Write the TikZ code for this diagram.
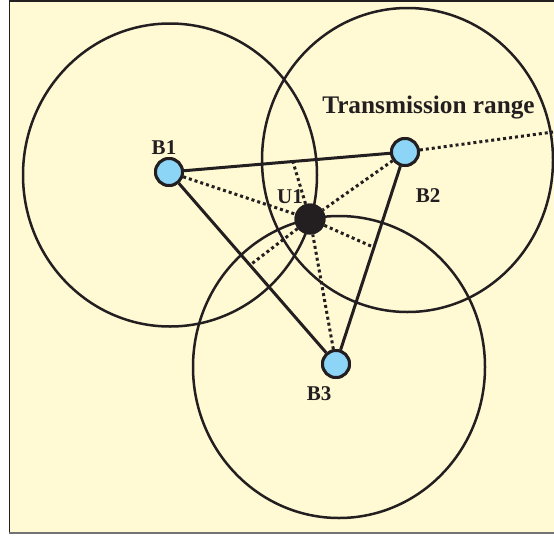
\documentclass[tikz,border=0pt]{standalone}
\usepackage{fontspec}
\setmainfont{Liberation Serif}
\usetikzlibrary{calc}
\definecolor{bgyellow}{HTML}{FFF9D4}
\definecolor{inkdark}{HTML}{231F20}
\definecolor{nodeblue}{HTML}{8DD5F6}
\begin{document}
\begin{tikzpicture}[x=1pt,y=-1pt,
  rangecircle/.style={draw=inkdark,line width=2.5pt},
  link/.style={draw=inkdark,line width=3pt},
  dotlink/.style={draw=inkdark,line width=3pt,dash pattern=on 3pt off 3pt},
  station/.style={circle,draw=inkdark,line width=3pt,fill=nodeblue,minimum size=27pt,inner sep=0pt},
  user/.style={circle,fill=inkdark,minimum size=31pt,inner sep=0pt},
  lab/.style={font=\bfseries\fontsize{21}{25}\selectfont,text=inkdark,anchor=base,inner sep=0pt},
  biglab/.style={font=\bfseries\fontsize{25.3}{30}\selectfont,text=inkdark,anchor=base,inner sep=0pt}]
\useasboundingbox (0,0) rectangle (554,536);
\begin{scope}
  \clip (0,0) rectangle (554,536);
  \fill[white] (0,0) rectangle (554,536);
  \fill[bgyellow] (9,1) rectangle (570,533);
  \draw[inkdark,line width=1.4pt] (9.5,1) -- (9.5,533);
  \draw[inkdark,line width=1.2pt] (9,1) -- (570,1);
  \draw[black!55,line width=1.6pt] (9,533) -- (570,533);
  % transmission ranges
  \draw[rangecircle] (170,175) ellipse [x radius=147, y radius=151.5];
  \draw[rangecircle] (407.5,160) ellipse [x radius=145.5, y radius=152];
  \draw[rangecircle] (339,367) ellipse [x radius=146, y radius=151];
\end{scope}
% nodes
\node[station] (B1) at (169,172) {};
\node[station] (B2) at (405,152) {};
\node[station] (B3) at (336,364) {};
\node[user] (U1) at (310,219) {};
\coordinate (F12) at ($(B1)!0.525!(B2)$);
\coordinate (F23) at ($(B2)!0.45!(B3)$);
\coordinate (F13) at ($(B1)!0.485!(B3)$);
\coordinate (E) at (553,132);
% connectors
\draw[link] (B1) -- (B2);
\draw[link] (B1) -- (B3);
\draw[link] (B2) -- (B3);
\draw[dotlink] (B1) -- (U1);
\draw[dotlink] (B2) -- (U1);
\draw[dotlink] (B3) -- (U1);
\draw[dotlink] (U1) -- (F12);
\draw[dotlink] (U1) -- (F23);
\draw[dotlink] (U1) -- (F13);
\draw[dotlink] (B2) -- (E);
% redraw node tops
\node[station] at (B1) {};
\node[station] at (B2) {};
\node[station] at (B3) {};
\node[user] at (U1) {};
% labels
\node[lab] (lB1) at (164,154) {B1};
\node[lab] (lB2) at (428,202) {B2};
\node[lab] (lB3) at (319,400) {B3};
\node[lab] (lU1) at (290,203) {U1};
\node[biglab] (lTR) at (428.5,113) {Transmission range};
\end{tikzpicture}
\end{document}
